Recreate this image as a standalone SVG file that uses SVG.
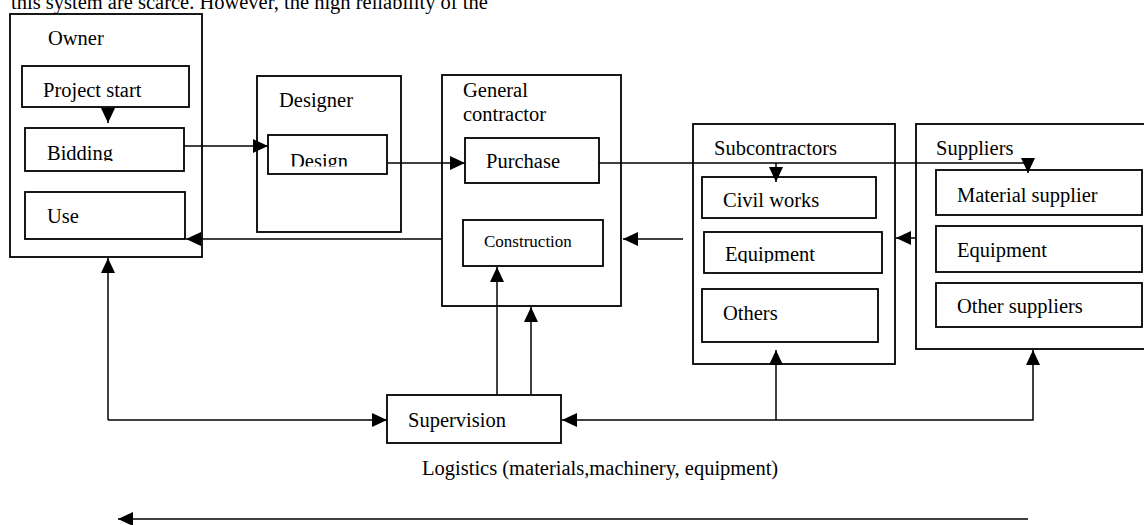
<svg xmlns="http://www.w3.org/2000/svg" width="1144" height="525" viewBox="0 0 1144 525">
<style>
text{font-family:"Liberation Serif","Times New Roman",serif;font-size:20.5px;fill:#000}
.sm{font-size:17px}
rect{fill:#fff;stroke:#000;stroke-width:1.8}
.c{fill:none;stroke:#000;stroke-width:1.5;marker-end:url(#ah)}
.p{fill:none;stroke:#000;stroke-width:1.5}
</style>
<defs>
<marker id="ah" markerUnits="userSpaceOnUse" markerWidth="16" markerHeight="16" refX="15" refY="7" orient="auto">
<path d="M0,0 L15,7 L0,14 Z" fill="#000"/>
</marker>
<clipPath id="cb"><rect x="0" y="0" width="1144" height="161"/></clipPath>
<clipPath id="cd"><rect x="0" y="0" width="1144" height="166.5"/></clipPath>
<clipPath id="ce"><rect x="0" y="0" width="1144" height="263"/></clipPath>
</defs>
<text x="11" y="9">this system are scarce. However, the high reliability of the</text>
<g id="owner">
<rect x="10" y="14" width="192" height="243"/>
<text x="48" y="45">Owner</text>
</g>
<g id="project-start"><rect x="22" y="66" width="167" height="41"/><text x="43" y="97">Project start</text></g>
<g id="bidding"><rect x="25" y="128" width="159" height="43"/><text x="47" y="160" clip-path="url(#cb)">Bidding</text></g>
<g id="use"><rect x="25" y="192" width="160" height="47"/><text x="47" y="223">Use</text></g>
<g id="designer"><rect x="257" y="76" width="144" height="156"/><text x="279" y="107">Designer</text></g>
<g id="design"><rect x="268" y="135" width="119" height="39"/><text x="290" y="168" clip-path="url(#cd)">Design</text></g>
<g id="general-contractor"><rect x="442" y="75" width="179" height="231"/><text x="463" y="97">General</text><text x="463" y="121">contractor</text></g>
<g id="purchase"><rect x="465" y="138" width="134" height="45"/><text x="486" y="168">Purchase</text></g>
<g id="construction"><rect x="463" y="220" width="140" height="46"/><text class="sm" x="484" y="247">Construction</text></g>
<g id="subcontractors"><rect x="693" y="124" width="202" height="240"/><text x="714" y="155">Subcontractors</text></g>
<g id="civil-works"><rect x="702" y="177" width="174" height="41"/><text x="723" y="207">Civil works</text></g>
<g id="sub-equipment"><rect x="704" y="232" width="178" height="41"/><text x="725" y="261" clip-path="url(#ce)">Equipment</text></g>
<g id="others"><rect x="702" y="289" width="176" height="53"/><text x="723" y="320">Others</text></g>
<g id="suppliers"><rect x="916" y="124" width="240" height="225"/><text x="936" y="155">Suppliers</text></g>
<g id="material-supplier"><rect x="936" y="170" width="206" height="45"/><text x="957" y="202">Material supplier</text></g>
<g id="sup-equipment"><rect x="936" y="226" width="206" height="46"/><text x="957" y="257">Equipment</text></g>
<g id="other-suppliers"><rect x="936" y="283" width="206" height="44"/><text x="957" y="313">Other suppliers</text></g>
<g id="supervision"><rect x="387" y="395" width="174" height="48"/><text x="408" y="427">Supervision</text></g>
<g id="logistics"><text x="422" y="475">Logistics (materials,machinery, equipment)</text></g>
<g id="connectors">
<path class="c" d="M108,107 V123"/>
<path class="c" d="M184,146 H268"/>
<path class="c" d="M387,163 H465"/>
<path class="p" d="M599,163 H1028"/>
<path class="c" d="M776,163 V182"/>
<path class="c" d="M1028,158 V173"/>
<path class="c" d="M442,239 H186"/>
<path class="c" d="M683,239 H623"/>
<path class="c" d="M916,238 H896"/>
<path class="c" d="M108,420 V258"/>
<path class="c" d="M108,420 H387"/>
<path class="c" d="M497,395 V267"/>
<path class="c" d="M531,395 V307"/>
<path class="c" d="M776,420 H562"/>
<path class="c" d="M776,420 V350"/>
<path class="c" d="M776,420 H1033 V350"/>
<path class="c" d="M1028,519 H118"/>
</g>
</svg>
